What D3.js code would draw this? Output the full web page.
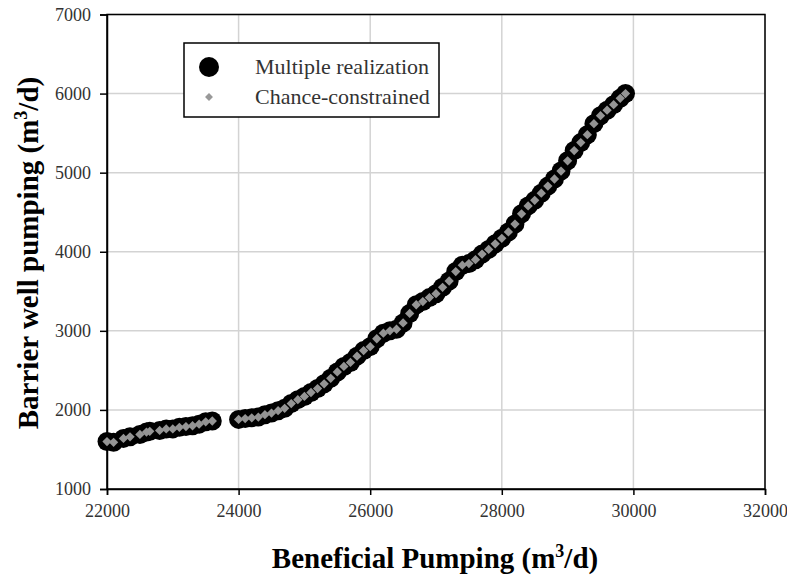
<!DOCTYPE html>
<html>
<head>
<meta charset="utf-8">
<script src="https://cdn.jsdelivr.net/npm/d3@7"></script>
<style>
  body { margin: 0; background: #fff; }
  text { font-family: "Liberation Serif", "Times New Roman", serif; }
</style>
</head>
<body>
<div id="chart"></div>
<script>
var width = 787,
    height = 578;

// beneficial pumping (m3/d) and barrier well pumping (m3/d)
var beneficial = [
  22000, 22100, 22250, 22350, 22500, 22600, 22650, 22800, 22900, 23000,
  23100, 23200, 23300, 23400, 23500, 23600,
  24000, 24100, 24200, 24300, 24400, 24500, 24600, 24700, 24800, 24900,
  25000, 25100, 25200, 25300, 25400, 25500, 25600, 25700, 25800, 25900,
  26000, 26100, 26200, 26300, 26400, 26500, 26600, 26700, 26800, 26900,
  27000, 27100, 27200, 27300, 27400, 27500, 27600, 27700, 27800, 27900,
  28000, 28100, 28200, 28300, 28400, 28500, 28600, 28700, 28800, 28900,
  29000, 29100, 29200, 29300, 29400, 29500, 29600, 29700, 29800, 29880
];
var barrierMR = [
  1600, 1590, 1640, 1660, 1690, 1720, 1730, 1740, 1760, 1760,
  1780, 1790, 1800, 1820, 1850, 1860,
  1880, 1890, 1900, 1910, 1940, 1960, 1990, 2020, 2080, 2130,
  2170, 2220, 2270, 2330, 2400, 2480, 2550, 2600, 2680, 2750,
  2800, 2900, 2970, 3000, 3020, 3100, 3220, 3330, 3370, 3420,
  3470, 3550, 3630, 3750, 3830, 3850, 3900, 3970, 4030, 4100,
  4170, 4250, 4350, 4480, 4580, 4650, 4740, 4830, 4920, 5020,
  5150, 5280, 5380, 5480, 5620, 5720, 5790, 5860, 5940, 6000
];
var barrierCC = barrierMR.slice();

var xTicks = [22000, 24000, 26000, 28000, 30000, 32000];
var yTicks = [1000, 2000, 3000, 4000, 5000, 6000, 7000];

var seriesNames = ["Multiple realization", "Chance-constrained"];

var margin = {left: 107, right: 22, top: 14.5, bottom: 89};

var x = d3.scaleLinear().domain([22000, 32000]).range([margin.left, width - margin.right]);
var y = d3.scaleLinear().domain([1000, 7000]).range([height - margin.bottom, margin.top]);

var svg = d3.select("#chart").append("svg")
    .attr("width", width)
    .attr("height", height);

// grid
svg.append("g").selectAll("line.v")
    .data(xTicks)
  .enter().append("line")
    .attr("x1", function(d) { return x(d); })
    .attr("x2", function(d) { return x(d); })
    .attr("y1", y(1000))
    .attr("y2", y(7000))
    .attr("stroke", "#d3d3d3")
    .attr("stroke-width", 1.5);

svg.append("g").selectAll("line.h")
    .data(yTicks)
  .enter().append("line")
    .attr("x1", x(22000))
    .attr("x2", x(32000))
    .attr("y1", function(d) { return y(d); })
    .attr("y2", function(d) { return y(d); })
    .attr("stroke", "#d3d3d3")
    .attr("stroke-width", 1.5);

// plot box
svg.append("rect")
    .attr("x", x(22000))
    .attr("y", y(7000))
    .attr("width", x(32000) - x(22000))
    .attr("height", y(1000) - y(7000))
    .attr("fill", "none")
    .attr("stroke", "#000")
    .attr("stroke-width", 1.5);

// axes
var xAxis = svg.append("g")
    .attr("transform", "translate(0," + y(1000) + ")")
    .call(d3.axisBottom(x).tickValues(xTicks).tickSize(6).tickPadding(9).tickFormat(d3.format("d")));
var yAxis = svg.append("g")
    .attr("transform", "translate(" + x(22000) + ",0)")
    .call(d3.axisLeft(y).tickValues(yTicks).tickSize(7).tickPadding(9).tickFormat(d3.format("d")));

[xAxis, yAxis].forEach(function(g) {
  g.attr("font-family", "Liberation Serif").attr("font-size", 18);
  g.select(".domain").attr("stroke", "#000").attr("stroke-width", 1.5);
  g.selectAll(".tick line").attr("stroke", "#000").attr("stroke-width", 1.5);
  g.selectAll(".tick text")
      .style("font-family", "Liberation Serif")
      .style("font-size", "18px")
      .attr("fill", "#333");
});

// data
var points = beneficial.map(function(d, i) { return {x: d, mr: barrierMR[i], cc: barrierCC[i]}; });
var diamond = d3.symbol().type(d3.symbolDiamond2).size(55);

svg.append("g").selectAll("circle")
    .data(points)
  .enter().append("circle")
    .attr("cx", function(d) { return x(d.x); })
    .attr("cy", function(d) { return y(d.mr); })
    .attr("r", 9.5)
    .attr("fill", "#000");

svg.append("g").selectAll("path")
    .data(points)
  .enter().append("path")
    .attr("d", diamond)
    .attr("transform", function(d) { return "translate(" + x(d.x) + "," + y(d.cc) + ")"; })
    .attr("fill", "#949494");

// legend
var legend = svg.append("g").attr("transform", "translate(184,43)");
legend.append("rect")
    .attr("width", 255)
    .attr("height", 74)
    .attr("fill", "#fff")
    .attr("stroke", "#000")
    .attr("stroke-width", 1.5);
legend.append("circle").attr("cx", 25).attr("cy", 24).attr("r", 10).attr("fill", "#000");
legend.append("path")
    .attr("d", d3.symbol().type(d3.symbolDiamond2).size(40))
    .attr("transform", "translate(25,54)")
    .attr("fill", "#999");
legend.selectAll("text.item")
    .data(seriesNames)
  .enter().append("text")
    .attr("x", 71)
    .attr("y", function(d, i) { return 31 + i * 30; })
    .style("font-size", "22px")
    .attr("fill", "#333")
    .text(function(d) { return d; });

// axis titles
var xt = svg.append("text")
    .attr("x", 435)
    .attr("y", 568)
    .attr("text-anchor", "middle")
    .style("font-size", "29px")
    .style("font-weight", "bold");
xt.append("tspan").text("Beneficial Pumping (m");
xt.append("tspan").attr("dy", -11).style("font-size", "18px").text("3");
xt.append("tspan").attr("dy", 11).text("/d)");

var yt = svg.append("text")
    .attr("transform", "translate(38,253)rotate(-90)")
    .attr("text-anchor", "middle")
    .style("font-size", "29px")
    .style("font-weight", "bold");
yt.append("tspan").text("Barrier well pumping (m");
yt.append("tspan").attr("dy", -11).style("font-size", "18px").text("3");
yt.append("tspan").attr("dy", 11).text("/d)");
</script>
</body>
</html>
